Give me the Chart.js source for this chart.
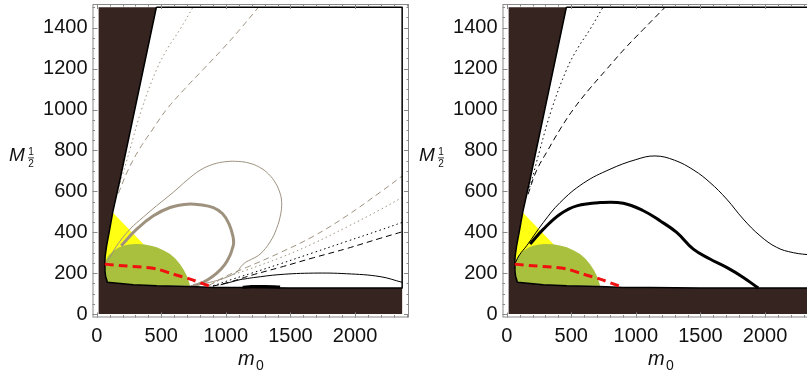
<!DOCTYPE html>
<html><head><meta charset="utf-8">
<script src="https://cdn.jsdelivr.net/npm/chart.js@4.4.1/dist/chart.umd.min.js"></script>
<style>
html,body{margin:0;padding:0;background:#fff}
#wrap{position:relative;width:807px;height:372px;overflow:hidden;background:#fff}
.panel{position:absolute;top:0;height:372px;overflow:hidden}
canvas{display:block}
</style></head><body>
<div id="wrap">
<div class="panel" style="left:0;width:410px"><canvas id="left" width="410" height="372"></canvas></div>
<div class="panel" style="left:410px;width:397px"><canvas id="right" width="410" height="372"></canvas></div>
</div>
<script>
// ---- tick labels ----
const xTickValues = [0, 500, 1000, 1500, 2000];
const xTickLabels = ['0', '500', '1000', '1500', '2000'];
const yTickValues = [0, 200, 400, 600, 800, 1000, 1200, 1400];
const yTickLabels = ['0', '200', '400', '600', '800', '1000', '1200', '1400'];
const xTitle = ['m', '0'];
const yTitle = ['M', '1', '2'];

// ---- regions (m0, M1/2) ----
const domainBox = [[15,0],[2365,0],[2365,1500],[15,1500],[15,0]];
const allowedRegion = [[462,1500],[181,659],[124,497],[101,415],[77,334],[66,285],[62,244],[64,210],[69,185],[83,155],[284,143],[465,138],[723,135],[903,130],[1110,130],[1497,127],[2365,127],[2365,1500],[462,1500]];
const yellowRegion = [[62,244],[77,334],[101,415],[124,497],[361,342],[250,300],[62,244]];
const greenRegion = [[62,244],[70,262],[90,285],[129,309],[170,325],[206,334],[250,340],[300,343],[361,341],[420,334],[465,326],[520,311],[568,293],[610,270],[645,244],[675,215],[697,187],[712,162],[723,138],[465,138],[284,143],[83,155],[69,185],[64,210],[62,244]];
const redBound = [[62,244],[206,236],[340,230],[465,220],[594,195],[723,171],[826,147],[903,130]];

// ---- left panel contours ----
const thinLoopL = [[65,250],[90,264],[155,334],[258,415],[361,474],[465,530],[594,596],[700,655],[800,703],[900,732],[1000,745],[1100,746],[1180,738],[1260,718],[1330,685],[1385,640],[1420,590],[1432,545],[1425,490],[1394,420],[1342,352],[1265,293],[1200,268],[1150,252],[1120,234],[1084,205],[1006,180],[903,159],[800,146],[730,139]];
const thickLoopL = [[190,334],[310,415],[439,480],[568,521],[700,537],[800,534],[903,520],[975,490],[1025,440],[1055,380],[1060,345],[1050,320],[1032,287],[990,240],[930,200],[860,168],[790,146],[748,138]];
const dotUpL = [[160,600],[200,680],[258,806],[348,1001],[465,1197],[550,1300],[645,1392],[745,1500]];
const dashUpL = [[168,590],[240,700],[330,806],[430,900],[542,1001],[680,1100],[826,1197],[980,1300],[1120,1400],[1252,1500]];
const grayDashLow = [[870,140],[1000,185],[1161,228],[1419,300],[1677,380],[1935,480],[2194,595],[2365,675]];
const grayDotLow = [[870,140],[1000,180],[1161,215],[1419,275],[1677,345],[1935,425],[2194,510],[2365,570]];
const blackDotLow = [[900,138],[1050,170],[1200,200],[1419,245],[1677,300],[1935,355],[2194,410],[2365,448]];
const blackDashLow = [[900,136],[1050,160],[1200,190],[1419,228],[1677,275],[1935,320],[2194,370],[2365,402]];
const blackThinLow = [[960,143],[1050,158],[1110,168],[1150,172],[1213,178],[1419,193],[1677,200],[1935,197],[2194,183],[2365,155]];
const blackBlob = [[1130,131],[1200,134],[1300,135],[1420,132]];

// ---- right panel contours ----
const thinR = [[65,248],[100,290],[155,334],[284,448],[413,545],[594,640],[800,708],[1000,755],[1148,773],[1300,752],[1450,703],[1574,643],[1703,562],[1832,464],[1961,383],[2090,326],[2219,300],[2365,288]];
const thickR = [[181,342],[284,415],[413,488],[542,529],[723,545],[903,542],[1058,505],[1187,456],[1316,399],[1445,317],[1574,269],[1703,228],[1832,179],[1948,127]];
const dotUpR = [[160,600],[181,627],[258,806],[348,1001],[465,1197],[550,1300],[645,1392],[745,1500]];
const dashUpR = [[165,585],[230,700],[323,806],[420,910],[516,1001],[640,1100],[774,1197],[910,1295],[1058,1392],[1226,1500]];

// ---- styling ----
const DARK = '#35241f', YELLOW = '#ffff14', GREEN = '#a9c03e', RED = '#f01010', TAN = '#9e927f';
const FONT = '"Liberation Sans", Arial, sans-serif';

const pts = a => a.map(([x, y]) => ({x, y}));
function poly(a, color, order, tension) {
  return {data: pts(a), showLine: true, borderWidth: 0, borderColor: 'rgba(0,0,0,0)', backgroundColor: color,
          fill: 'shape', pointRadius: 0, tension: tension || 0, order};
}
function curve(a, color, width, dash, order, tension) {
  return {data: pts(a), showLine: true, borderColor: color, borderWidth: width, borderDash: dash || [],
          pointRadius: 0, fill: false, tension: tension === undefined ? 0.4 : tension, order, borderCapStyle: 'butt', borderJoinStyle: 'round'};
}

const framePlugin = {
  id: 'frame',
  afterDraw(chart) {
    const {ctx, chartArea: a, scales: {x, y}} = chart;
    ctx.save();
    ctx.strokeStyle = '#8a8a8a';
    ctx.lineWidth = 1;
    ctx.strokeRect(a.left + 0.5, a.top + 0.5, a.right - a.left - 1, a.bottom - a.top - 1);
    ctx.beginPath();
    for (let v = 0; v <= 2400; v += 100) {
      const px = Math.round(x.getPixelForValue(v)) + 0.5;
      const L = v % 500 === 0 ? 5 : 2.5;
      ctx.moveTo(px, a.bottom); ctx.lineTo(px, a.bottom - L);
      ctx.moveTo(px, a.top); ctx.lineTo(px, a.top + L);
    }
    for (let v = 0; v <= 1500; v += 50) {
      const py = Math.round(y.getPixelForValue(v)) + 0.5;
      const L = v % 200 === 0 ? 5 : 2.5;
      ctx.moveTo(a.left, py); ctx.lineTo(a.left + L, py);
      ctx.moveTo(a.right, py); ctx.lineTo(a.right - L, py);
    }
    ctx.stroke();
    // axis titles
    ctx.fillStyle = '#111';
    ctx.textBaseline = 'alphabetic';
    ctx.font = 'italic 20px ' + FONT;
    ctx.textAlign = 'left';
    ctx.fillText(xTitle[0], 238, 365);
    ctx.font = '14px ' + FONT;
    ctx.fillText(xTitle[1], 256, 370);
    ctx.font = 'italic 19px ' + FONT;
    ctx.textAlign = 'left';
    ctx.fillText(yTitle[0], 9, 161);
    ctx.font = '10px ' + FONT;
    ctx.textAlign = 'center';
    ctx.fillText(yTitle[1], 31, 155);
    ctx.fillText(yTitle[2], 31, 167);
    ctx.fillRect(28, 157.5, 6, 0.8);
    ctx.restore();
  }
};

function makeChart(id, extra) {
  const datasets = [
    poly(domainBox, DARK, 100),
    poly(allowedRegion, '#ffffff', 90),
    poly(yellowRegion, YELLOW, 80),
    poly(greenRegion, GREEN, 70),
    ...extra,
    curve(allowedRegion, '#000', 1.5, [], 20, 0),
    curve(redBound, RED, 3, [9, 5], 5, 0.3)
  ];
  return new Chart(document.getElementById(id), {
    type: 'scatter',
    data: {datasets},
    options: {
      responsive: false, animation: false, devicePixelRatio: 1,
      layout: {padding: {left: 0, right: 1, top: 4, bottom: 0}},
      plugins: {legend: {display: false}, tooltip: {enabled: false}},
      scales: {
        x: {type: 'linear', min: -32.5, max: 2418,
            grid: {display: false, drawTicks: false}, border: {display: false},
            afterBuildTicks: s => { s.ticks = xTickValues.map(v => ({value: v})); },
            afterFit: s => { s.height = 54.5; s.paddingLeft = 0; s.paddingRight = 0; },
            ticks: {padding: 7, color: '#111', font: {family: FONT, size: 20}, maxRotation: 0, autoSkip: false,
                    callback: (v, i) => xTickLabels[i]}},
        y: {type: 'linear', min: -17, max: 1516,
            grid: {display: false, drawTicks: false}, border: {display: false},
            afterBuildTicks: s => { s.ticks = yTickValues.map(v => ({value: v})); },
            afterFit: s => { s.width = 92.5; s.paddingTop = 0; s.paddingBottom = 0; },
            ticks: {padding: 5, color: '#111', font: {family: FONT, size: 20}, autoSkip: false,
                    callback: (v, i) => yTickLabels[i]}}
      }
    },
    plugins: [framePlugin]
  });
}

makeChart('left', [
  curve(thinLoopL, TAN, 1, [], 50),
  curve(thickLoopL, TAN, 3, [], 49),
  curve(dotUpL, TAN, 1, [1.5, 3], 48),
  curve(dashUpL, TAN, 1, [6, 4], 48),
  curve(grayDashLow, TAN, 1, [6, 4], 47),
  curve(grayDotLow, TAN, 1, [1.5, 3], 47),
  curve(blackDotLow, '#000', 1, [1.5, 3], 46),
  curve(blackDashLow, '#000', 1, [6, 4], 46),
  curve(blackThinLow, '#000', 1, [], 45),
  curve(blackBlob, '#000', 3, [], 44)
]);
makeChart('right', [
  curve(thinR, '#000', 1, [], 50),
  curve(thickR, '#000', 3, [], 49),
  curve(dotUpR, '#000', 1, [1.5, 3], 48),
  curve(dashUpR, '#000', 1, [6, 4], 48)
]);
</script>
</body></html>
